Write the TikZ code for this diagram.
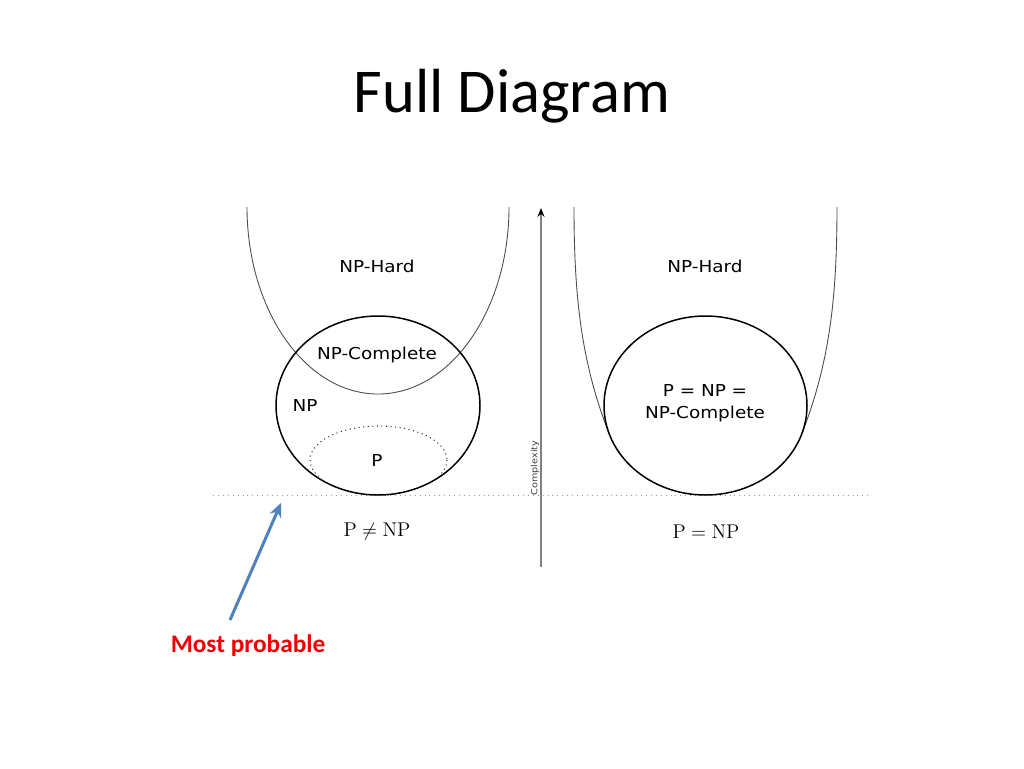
\documentclass[tikz,border=0pt]{standalone}
\usepackage{fontspec}
\usetikzlibrary{arrows.meta}
\newfontfamily\dvfont[FakeStretch=1.12]{DejaVu Sans}
\newfontfamily\carlfont{Carlito}
\definecolor{arrowblue}{HTML}{4F81BD}
\definecolor{probred}{HTML}{EE0000}
\tikzset{
  lbl/.style={inner sep=0pt, font=\dvfont\fontsize{9.35}{12.2}\selectfont},
  mathlbl/.style={inner sep=0pt, font=\fontsize{11.3}{13}\selectfont},
  setcirc/.style={draw=black, line width=0.85pt},
  ucurve/.style={draw=black!70, line width=0.5pt},
  pset/.style={draw=black!80, line width=0.6pt, dotted},
  baseline/.style={draw=black!40, line width=0.5pt, dash pattern=on 0.5pt off 2.3pt},
  axisline/.style={draw=black!50, line width=1.1pt, -{Stealth[length=5pt,width=4pt,black]}},
  bluearrow/.style={draw=arrowblue, line width=1.7pt, -{Stealth[length=8pt,width=7pt]}}
}
\begin{document}
\begin{tikzpicture}[x=0.02cm, y=-0.02cm]
\useasboundingbox[fill=white] (0,0) rectangle (1024,768);

% title
\node[inner sep=0pt, font=\carlfont\fontsize{35.5}{40}\selectfont] (title) at (512,96) {Full Diagram};

% baseline (dotted)
\coordinate (bl) at (213,495);
\coordinate (br) at (870,495);
\draw[baseline] (bl) -- (br);

% complexity axis
\coordinate (axb) at (541,567);
\coordinate (axt) at (541,208);
\draw[axisline] (axb) -- (axt);
\node[inner sep=0pt, rotate=90, text=black!75, font=\dvfont\fontsize{4.9}{6}\selectfont] (cplx) at (535,468) {Complexity};

% ---------- left diagram: P != NP ----------
\draw[ucurve] (247,207) arc[start angle=180, end angle=0, x radius=131, y radius=187];
\draw[setcirc] (378,405.5) ellipse[x radius=102, y radius=89.5];
\begin{scope}
  \clip (378,405.5) ellipse[x radius=100.5, y radius=88];
  \draw[pset] (378.5,460) ellipse[x radius=68.5, y radius=34];
\end{scope}
\node[lbl] (nphardL) at (377,266) {NP-Hard};
\node[lbl] (npcL) at (377,355) {NP-Complete};
\node[lbl] (npL) at (305,406) {NP};
\node[lbl] (pL) at (377,461) {P};
\node[mathlbl] (neq) at (377,532) {$\mathrm{P} \neq \mathrm{NP}$};

% ---------- right diagram: P = NP ----------
\draw[ucurve] (574,207) .. controls (574,300) and (582,365) .. (609.7,435);
\draw[ucurve] (837,207) .. controls (837,300) and (829,365) .. (801.3,435);
\draw[setcirc] (705.5,405.5) ellipse[x radius=101.5, y radius=89.5];
\node[lbl] (nphardR) at (705,266) {NP-Hard};
\node[lbl, align=center] (eqR) at (705,403) {P = NP =\\NP-Complete};
\node[mathlbl] (eq) at (706,532) {$\mathrm{P} = \mathrm{NP}$};

% ---------- annotation ----------
\node[inner sep=0pt, text=probred, font=\carlfont\bfseries\fontsize{14.4}{17}\selectfont] (most) at (248,646) {Most probable};
\coordinate (astart) at (230,620);
\coordinate (atip) at (281,503);
\draw[bluearrow] (astart) -- (atip);
\end{tikzpicture}
\end{document}
